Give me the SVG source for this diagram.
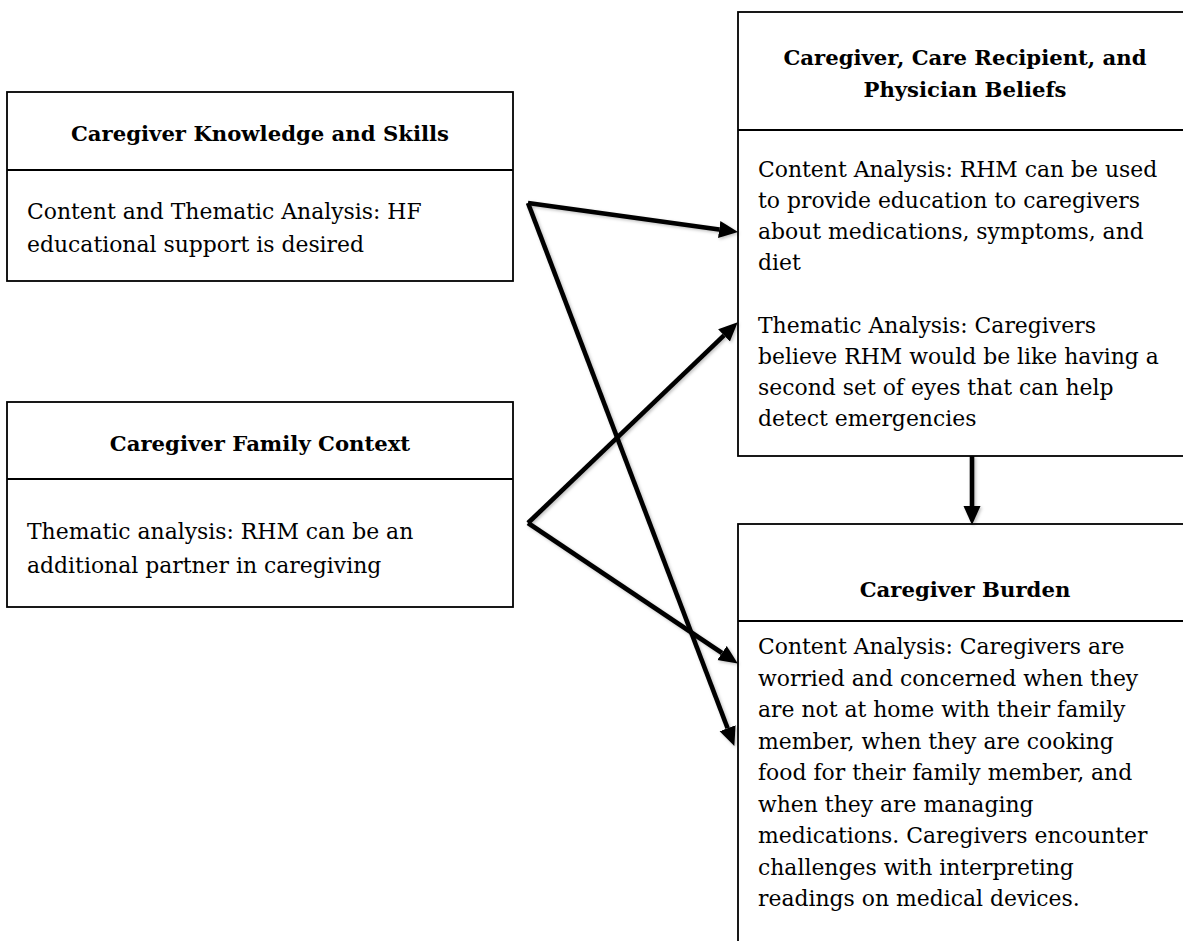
<svg xmlns="http://www.w3.org/2000/svg" width="1183" height="941" viewBox="0 0 1183 941">
<style>
.box{fill:#fff;stroke:#000;stroke-width:1.8}
.div{stroke:#000;stroke-width:2.2}
.t{font-family:"DejaVu Serif","Liberation Serif",serif;font-size:21.9px;fill:#000}
.b{font-weight:bold;text-anchor:middle;font-size:21.2px}
.c{stroke:#000;stroke-width:4.6;fill:none;marker-end:url(#ah);filter:url(#sh)}
</style>
<defs>
<marker id="ah" markerUnits="userSpaceOnUse" markerWidth="20" markerHeight="18" refX="0" refY="8.5" orient="auto">
<path d="M0,0 L19,8.5 L0,17 z" fill="#000"/>
</marker>
<filter id="sh" filterUnits="userSpaceOnUse" x="0" y="0" width="1183" height="941">
<feDropShadow dx="1.5" dy="1.5" stdDeviation="1.5" flood-color="#000" flood-opacity="0.25"/>
</filter>
</defs>
<g id="knowledge">
<rect class="box" x="7" y="92" width="506" height="189"/>
<line class="div" x1="7" y1="170" x2="513" y2="170"/>
<text class="t b" x="260" y="141">Caregiver Knowledge and Skills</text>
<text class="t" x="27" y="219">Content and Thematic Analysis: HF</text>
<text class="t" x="27" y="252">educational support is desired</text>
</g>
<g id="family">
<rect class="box" x="7" y="402" width="506" height="205"/>
<line class="div" x1="7" y1="479" x2="513" y2="479"/>
<text class="t b" x="260" y="451">Caregiver Family Context</text>
<text class="t" x="27" y="539">Thematic analysis: RHM can be an</text>
<text class="t" x="27" y="573">additional partner in caregiving</text>
</g>
<g id="beliefs">
<rect class="box" x="738" y="12" width="460" height="444"/>
<line class="div" x1="738" y1="130" x2="1190" y2="130"/>
<text class="t b" x="965" y="65">Caregiver, Care Recipient, and</text>
<text class="t b" x="965" y="97">Physician Beliefs</text>
<text class="t" x="758" y="177">Content Analysis: RHM can be used</text>
<text class="t" x="758" y="208">to provide education to caregivers</text>
<text class="t" x="758" y="239">about medications, symptoms, and</text>
<text class="t" x="758" y="270">diet</text>
<text class="t" x="758" y="333">Thematic Analysis: Caregivers</text>
<text class="t" x="758" y="364">believe RHM would be like having a</text>
<text class="t" x="758" y="395">second set of eyes that can help</text>
<text class="t" x="758" y="426">detect emergencies</text>
</g>
<g id="burden">
<rect class="box" x="738" y="524" width="460" height="430"/>
<line class="div" x1="738" y1="621" x2="1190" y2="621"/>
<text class="t b" x="965" y="597">Caregiver Burden</text>
<text class="t" x="758" y="654">Content Analysis: Caregivers are</text>
<text class="t" x="758" y="685.5">worried and concerned when they</text>
<text class="t" x="758" y="717">are not at home with their family</text>
<text class="t" x="758" y="748.5">member, when they are cooking</text>
<text class="t" x="758" y="780">food for their family member, and</text>
<text class="t" x="758" y="811.5">when they are managing</text>
<text class="t" x="758" y="843">medications. Caregivers encounter</text>
<text class="t" x="758" y="874.5">challenges with interpreting</text>
<text class="t" x="758" y="906">readings on medical devices.</text>
</g>
<g id="connectors">
<line class="c" x1="528" y1="203" x2="719.2" y2="229.5"/>
<line class="c" x1="528" y1="203" x2="727.6" y2="728.2"/>
<line class="c" x1="528" y1="523" x2="724.0" y2="335.4"/>
<line class="c" x1="528" y1="523" x2="722.0" y2="653.0"/>
<line class="c" x1="972" y1="456" x2="972" y2="506"/>
</g>
</svg>
